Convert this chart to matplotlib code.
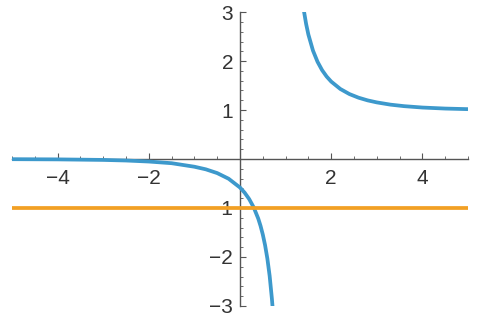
import matplotlib.pyplot as plt
from matplotlib.ticker import MultipleLocator

# left branch of the curve
x_left = [-5.0, -4.0, -3.0, -2.5, -2.0, -1.5, -1.0, -0.75, -0.5, -0.25, 0.0,
          0.1, 0.2, 0.3, 0.4, 0.45, 0.5, 0.55, 0.6, 0.65, 0.7, 0.715]
y_left = [-0.003, -0.007, -0.018, -0.030, -0.051, -0.085, -0.157, -0.210, -0.287,
          -0.402, -0.582, -0.685, -0.816, -0.986, -1.216, -1.364, -1.542, -1.760,
          -2.033, -2.386, -2.858, -3.03]

# right branch
x_right = [1.39, 1.4, 1.45, 1.5, 1.6, 1.7, 1.8, 1.9, 2.0, 2.2, 2.4, 2.6, 2.8,
           3.0, 3.3, 3.6, 4.0, 4.5, 5.0]
y_right = [3.1, 3.034, 2.759, 2.541, 2.216, 1.987, 1.816, 1.685, 1.582, 1.431,
           1.327, 1.253, 1.198, 1.157, 1.111, 1.080, 1.052, 1.031, 1.019]

# horizontal line
x_hline = [-5.0, 5.0]
y_hline = [-1.0, -1.0]

x_ticks = [-4, -2, 2, 4]
y_ticks = [-3, -2, -1, 1, 2, 3]

blue = "#3D99CC"
orange = "#F2A024"
gray = "#555555"

plt.rcParams["font.family"] = ["Liberation Sans", "DejaVu Sans"]

fig = plt.figure(figsize=(4.8, 3.2), dpi=100)
ax = fig.add_axes([0.025, 0.044, 0.95, 0.918])

ax.plot(x_left, y_left, color=blue, lw=2.7, zorder=3, solid_capstyle="butt")
ax.plot(x_right, y_right, color=blue, lw=2.7, zorder=3, solid_capstyle="butt")
ax.plot(x_hline, y_hline, color=orange, lw=2.7, zorder=3, solid_capstyle="butt")

ax.set_xlim(-5, 5)
ax.set_ylim(-3, 3)

for s in ["top", "right"]:
    ax.spines[s].set_visible(False)
ax.spines["left"].set_position(("data", 0))
ax.spines["bottom"].set_position(("data", 0))
for s in ["left", "bottom"]:
    ax.spines[s].set_color(gray)
    ax.spines[s].set_linewidth(1.0)

ax.set_xticks(x_ticks)
ax.set_yticks(y_ticks)
ax.set_xticklabels(["\u2212" + str(-t) if t < 0 else str(t) for t in x_ticks])
ax.set_yticklabels(["\u2212" + str(-t) if t < 0 else str(t) for t in y_ticks])
ax.xaxis.set_minor_locator(MultipleLocator(0.5))
ax.yaxis.set_minor_locator(MultipleLocator(0.2))

ax.tick_params(which="major", direction="in", length=4, width=0.8, color=gray,
               labelsize=15, labelcolor="#333333")
ax.tick_params(which="minor", direction="in", length=2.5, width=0.6, color=gray)
ax.tick_params(axis="x", which="major", pad=7)
ax.tick_params(axis="y", which="major", pad=5)

fig.savefig("out.png", dpi=100)
